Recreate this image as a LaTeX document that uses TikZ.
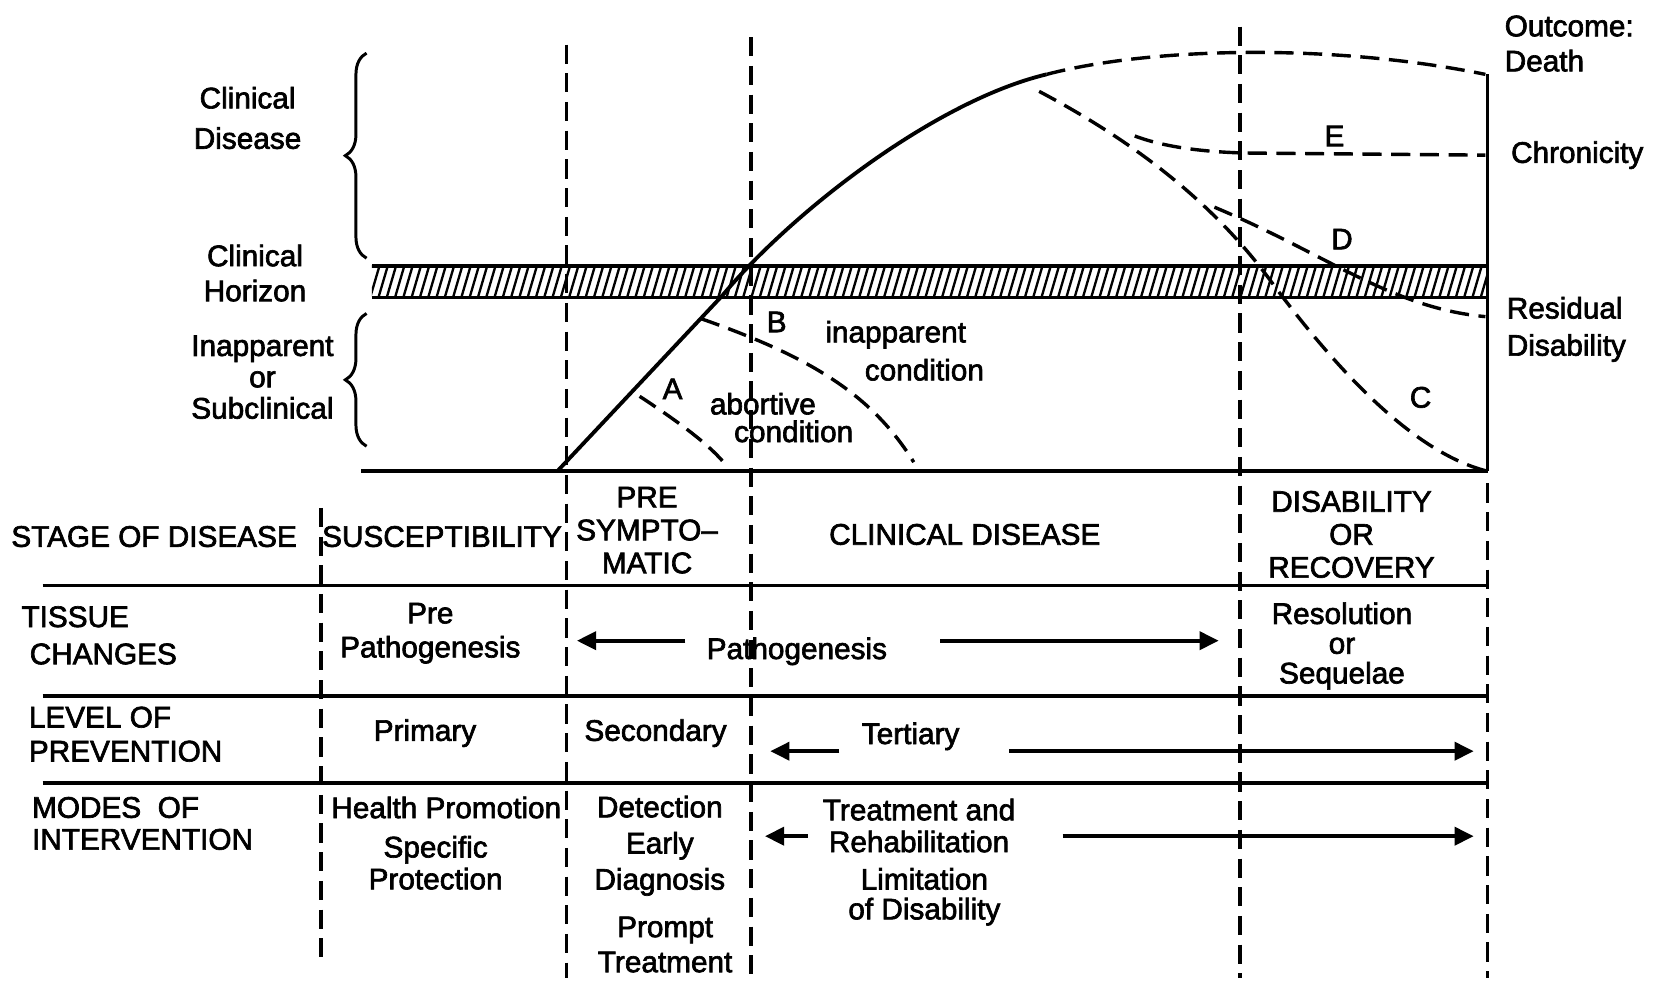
\documentclass[tikz,border=0pt]{standalone}
\usepackage{fontspec}
\setmainfont{Liberation Sans}[FakeBold=2.2]
\usetikzlibrary{arrows.meta,decorations.pathreplacing}
\newcommand{\setfs}[1]{\fontsize{28}{#1}\selectfont}
\begin{document}
\begin{tikzpicture}[x=1pt,y=-1pt,
  txt/.style={inner sep=0pt,align=center,font=\setfs{30}},
  solidline/.style={line width=3.6pt},
  dline/.style={line width=3.2pt,dash pattern=on 18pt off 9pt},
  arr/.style={line width=3.4pt,-{Triangle[length=18pt,width=17pt]}},
  bracestyle/.style={line width=2.8pt,decorate,decoration={brace,amplitude=20pt}}]
\useasboundingbox (0,0) rectangle (1568,923);
% ---- hatched clinical horizon
\begin{scope}
\clip (350,250) rectangle (1400,280);
\foreach \i in {0,...,140} \draw[line width=2.2pt] ({340+7.8*\i},282) -- ({350+7.8*\i},248);
\end{scope}
\draw[solidline] (350,250) -- (1400,250);
\draw[solidline] (350,280) -- (1400,280);
% ---- base line and right wall
\draw[solidline] (340,443) -- (1400,443);
\draw[solidline] (1400,70) -- (1400,443);
% ---- vertical dashed lines
\draw[dline] (533,42) -- (533,920);
\draw[dline] (707,35) -- (707,920);
\draw[dline] (1167,25) -- (1167,920);
\draw[dline] (302,478) -- (302,905);
\draw[dline] (1400,455) -- (1400,920);
% ---- table rules
\draw[solidline] (40,551) -- (1400,551);
\draw[solidline] (40,655) -- (1400,655);
\draw[solidline] (40,737) -- (1400,737);
% ---- main curve
\draw[solidline] (525,443) -- (680,278) .. controls (745,200) and (880,95) .. (985,70);
\draw[dline] (985,70) .. controls (1080,45) and (1250,40) .. (1398,70);
% C
\draw[dline] (978,86) .. controls (1080,140) and (1150,200) .. (1200,270) .. controls (1260,350) and (1330,425) .. (1398,443);
% E
\draw[dline] (1068,128) .. controls (1100,140) and (1140,143) .. (1170,144) -- (1398,146);
% D
\draw[dline] (1143,195) .. controls (1250,240) and (1310,290) .. (1398,298);
% B
\draw[dline] (660,300) .. controls (760,335) and (820,370) .. (860,435);
% A
\draw[dline] (602,373) .. controls (640,398) and (670,420) .. (685,440);
% ---- braces
\draw[bracestyle] (345,243) -- (345,50);
\draw[bracestyle] (345,420) -- (345,295);
% ---- left labels
\node[txt,font=\setfs{38}] (clin) at (233,111) {Clinical\\Disease};
\node[txt,font=\setfs{33}] (hor) at (240,257) {Clinical\\Horizon};
\node[txt,font=\setfs{29.5}] (inap) at (247,355) {Inapparent\\or\\Subclinical};
% ---- right labels
\node[txt,anchor=west,align=left,font=\setfs{33}] (death) at (1416,41) {Outcome:\\Death};
\node[txt,anchor=west] (chron) at (1422,146) {Chronicity};
\node[txt,anchor=west,align=left,font=\setfs{35}] (resid) at (1418,310) {Residual\\Disability};
% ---- curve letters
\node[txt] (lE) at (1256,128) {E};
\node[txt] (lD) at (1263,225) {D};
\node[txt] (lC) at (1337,374) {C};
\node[txt] (lB) at (731,303) {B};
\node[txt] (lA) at (633,366) {A};
\node[txt] (inapc1) at (843,315) {inapparent};
\node[txt] (inapc2) at (870,348) {condition};
\node[txt] (abort1) at (718,380) {abortive};
\node[txt] (abort2) at (747,406) {condition};
% ---- table row 1
\node[txt] (stage) at (145,505) {STAGE OF DISEASE};
\node[txt] (susc) at (416,505) {SUSCEPTIBILITY};
\node[txt,font=\setfs{31}] (presym) at (609,499) {PRE\\SYMPTO--\\MATIC};
\node[txt] (clindis) at (908,503) {CLINICAL DISEASE};
\node[txt,font=\setfs{31}] (disrec) at (1272,503) {DISABILITY\\OR\\RECOVERY};
% ---- table row 2
\node[txt,anchor=west,align=left,font=\setfs{35}] (tissue) at (20,598) {TISSUE\\\ CHANGES};
\node[txt,font=\setfs{32}] (prepath) at (405,596) {Pre\\Pathogenesis};
\node[txt] (path) at (750,613) {Pathogenesis};
\node[txt,font=\setfs{28}] (resol) at (1263,608) {Resolution\\or\\Sequelae};
\coordinate (p1s) at (645,603); \coordinate (p1e) at (543,603);
\coordinate (p2s) at (885,603); \coordinate (p2e) at (1147,603);
\draw[arr] (p1s) -- (p1e);
\draw[arr] (p2s) -- (p2e);
% ---- table row 3
\node[txt,anchor=west,align=left,font=\setfs{32}] (level) at (27,691) {LEVEL OF\\PREVENTION};
\node[txt] (prim) at (400,690) {Primary};
\node[txt] (sec) at (617,690) {Secondary};
\node[txt] (tert) at (857,693) {Tertiary};
\coordinate (t1s) at (790,707); \coordinate (t1e) at (725,707);
\coordinate (t2s) at (950,707); \coordinate (t2e) at (1387,707);
\draw[arr] (t1s) -- (t1e);
\draw[arr] (t2s) -- (t2e);
% ---- table row 4
\node[txt,anchor=west,align=left,font=\setfs{30}] (modes) at (30,775) {MODES\ \ OF\\INTERVENTION};
\node[txt] (hp) at (420,760) {Health Promotion};
\node[txt,font=\setfs{30}] (sp) at (410,812) {Specific\\Protection};
\node[txt,font=\setfs{34}] (det) at (621,796) {Detection\\Early\\Diagnosis};
\node[txt,font=\setfs{33}] (prompt) at (626,889) {Prompt\\Treatment};
\node[txt,font=\setfs{30}] (treat) at (865,777) {Treatment and\\Rehabilitation};
\node[txt,font=\setfs{28}] (limit) at (870,844) {Limitation\\of Disability};
\coordinate (m1s) at (760,787); \coordinate (m1e) at (720,787);
\coordinate (m2s) at (1000,787); \coordinate (m2e) at (1387,787);
\draw[arr] (m1s) -- (m1e);
\draw[arr] (m2s) -- (m2e);
\end{tikzpicture}
\end{document}
